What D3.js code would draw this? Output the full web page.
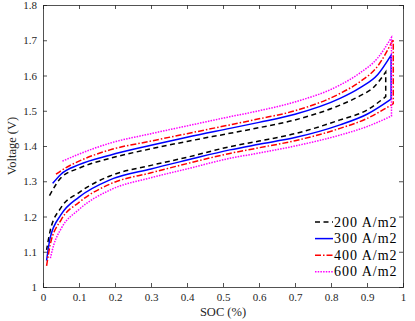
<!DOCTYPE html>
<html>
<head>
<meta charset="utf-8">
<script src="https://cdn.jsdelivr.net/npm/d3@7"></script>
<style>
  body { margin: 0; background: #fff; font-family: 'Liberation Serif'; }
</style>
</head>
<body>
<div id="chart"></div>
<script>
// legend labels
const labels = ["200 A/m2", "300 A/m2", "400 A/m2", "600 A/m2"];
const xTicks = [0, 0.1, 0.2, 0.3, 0.4, 0.5, 0.6, 0.7, 0.8, 0.9, 1];
const yTicks = [1, 1.1, 1.2, 1.3, 1.4, 1.5, 1.6, 1.7, 1.8];

// charge (upper) curves, SOC -> voltage
const up200 = [[0.018,1.259],[0.05,1.31],[0.1,1.337],[0.186,1.365],[0.3,1.392],[0.4,1.413],[0.519,1.436],[0.6,1.452],[0.7,1.474],[0.825,1.516],[0.88,1.542],[0.92,1.568],[0.952,1.61]];
const up300 = [[0.027,1.294],[0.05,1.32],[0.1,1.347],[0.186,1.374],[0.3,1.402],[0.4,1.425],[0.519,1.45],[0.6,1.467],[0.7,1.49],[0.825,1.535],[0.88,1.565],[0.93,1.603],[0.967,1.658]];
const up400 = [[0.036,1.32],[0.05,1.33],[0.1,1.357],[0.186,1.389],[0.3,1.414],[0.4,1.435],[0.519,1.46],[0.6,1.477],[0.7,1.5],[0.825,1.549],[0.88,1.582],[0.93,1.627],[0.973,1.703]];
const up600 = [[0.054,1.357],[0.1,1.377],[0.186,1.408],[0.3,1.435],[0.4,1.457],[0.519,1.483],[0.6,1.5],[0.7,1.525],[0.825,1.573],[0.88,1.607],[0.93,1.65],[0.968,1.708]];

// discharge (lower) curves
const lo200 = [[0.01,1.105],[0.02,1.16],[0.05,1.225],[0.1,1.268],[0.186,1.315],[0.3,1.345],[0.4,1.368],[0.519,1.398],[0.6,1.414],[0.7,1.435],[0.825,1.474],[0.9,1.502],[0.952,1.54]];
const lo300 = [[0.01,1.075],[0.02,1.14],[0.05,1.205],[0.1,1.255],[0.186,1.304],[0.3,1.335],[0.4,1.36],[0.519,1.389],[0.6,1.405],[0.7,1.424],[0.825,1.46],[0.9,1.49],[0.967,1.533]];
const lo400 = [[0.01,1.06],[0.02,1.12],[0.05,1.19],[0.1,1.24],[0.186,1.292],[0.3,1.324],[0.4,1.35],[0.519,1.379],[0.6,1.395],[0.7,1.415],[0.825,1.45],[0.9,1.478],[0.973,1.52]];
const lo600 = [[0.02,1.08],[0.03,1.12],[0.05,1.165],[0.1,1.22],[0.186,1.275],[0.3,1.31],[0.4,1.335],[0.519,1.365],[0.6,1.38],[0.7,1.4],[0.825,1.431],[0.9,1.455],[0.968,1.485]];

const upper = [up200, up300, up400, up600];
const lower = [lo200, lo300, lo400, lo600];
const colors = ["#000000", "#0000ff", "#ff0000", "#ff00ff"];
const dashes = ["5,3.5", null, "6,2,1.5,2", "1.5,1.2"];

const width = 415, height = 321;
const mLeft = 43, mRight = 403, mTop = 5, mBottom = 287;
const axisColor = "#262626";
const serif = "'Liberation Serif'";

const svg = d3.select("#chart").append("svg")
    .attr("width", width)
    .attr("height", height)
    .style("font-family", serif);

const x = d3.scaleLinear().domain([0, 1]).range([mLeft, mRight]);
const y = d3.scaleLinear().domain([1, 1.8]).range([mBottom, mTop]);

// axes, ticks inward on all four sides like matlab's box
const fmt = d => d3.format("")(d);
svg.append("g").attr("transform", `translate(0,${mBottom})`)
    .call(d3.axisBottom(x).tickValues(xTicks).tickSize(-4).tickPadding(6).tickFormat(fmt));
svg.append("g").attr("transform", `translate(0,${mTop})`)
    .call(d3.axisTop(x).tickValues(xTicks).tickSize(-4).tickFormat(""));
svg.append("g").attr("transform", `translate(${mLeft},0)`)
    .call(d3.axisLeft(y).tickValues(yTicks).tickSize(-4).tickPadding(6).tickFormat(fmt));
svg.append("g").attr("transform", `translate(${mRight},0)`)
    .call(d3.axisRight(y).tickValues(yTicks).tickSize(-4).tickFormat(""));

svg.selectAll(".domain").attr("stroke", axisColor).attr("stroke-width", 0.8);
svg.selectAll(".tick line").attr("stroke", axisColor).attr("stroke-width", 0.8);
svg.selectAll(".tick text")
    .attr("fill", axisColor)
    .style("font-family", serif)
    .style("font-size", "11px");

// axis labels
svg.append("text")
    .attr("x", (mLeft + mRight) / 2)
    .attr("y", 316)
    .attr("text-anchor", "middle")
    .attr("fill", axisColor)
    .style("font-family", serif)
    .style("font-size", "12.5px")
    .text("SOC (%)");

svg.append("text")
    .attr("transform", `translate(16,${(mTop + mBottom) / 2}) rotate(-90)`)
    .attr("text-anchor", "middle")
    .attr("fill", axisColor)
    .style("font-family", serif)
    .style("font-size", "12.5px")
    .text("Voltage (V)");

// each cycle: charge curve up, vertical drop, discharge curve back
const line = d3.line()
    .x(d => x(d[0]))
    .y(d => y(d[1]))
    .curve(d3.curveMonotoneX);

upper.forEach((u, i) => {
    const back = lower[i].slice().reverse();
    const path = svg.append("path")
        .attr("d", line(u) + "L" + line(back).slice(1))
        .attr("fill", "none")
        .attr("stroke", colors[i])
        .attr("stroke-width", 1.5);
    if (dashes[i]) path.attr("stroke-dasharray", dashes[i]);
});

// legend
const legend = svg.append("g");
labels.forEach((lab, i) => {
    const ly = 222 + i * 16.6;
    const l = legend.append("line")
        .attr("x1", 315).attr("x2", 333)
        .attr("y1", ly).attr("y2", ly)
        .attr("stroke", colors[i])
        .attr("stroke-width", 1.5);
    if (dashes[i]) l.attr("stroke-dasharray", dashes[i]);
    legend.append("text")
        .attr("x", 334)
        .attr("y", ly + 4.5)
        .attr("fill", "#000")
        .style("font-family", serif)
        .style("font-size", "14px")
        .style("letter-spacing", "1px")
        .text(lab);
});
</script>
</body>
</html>
